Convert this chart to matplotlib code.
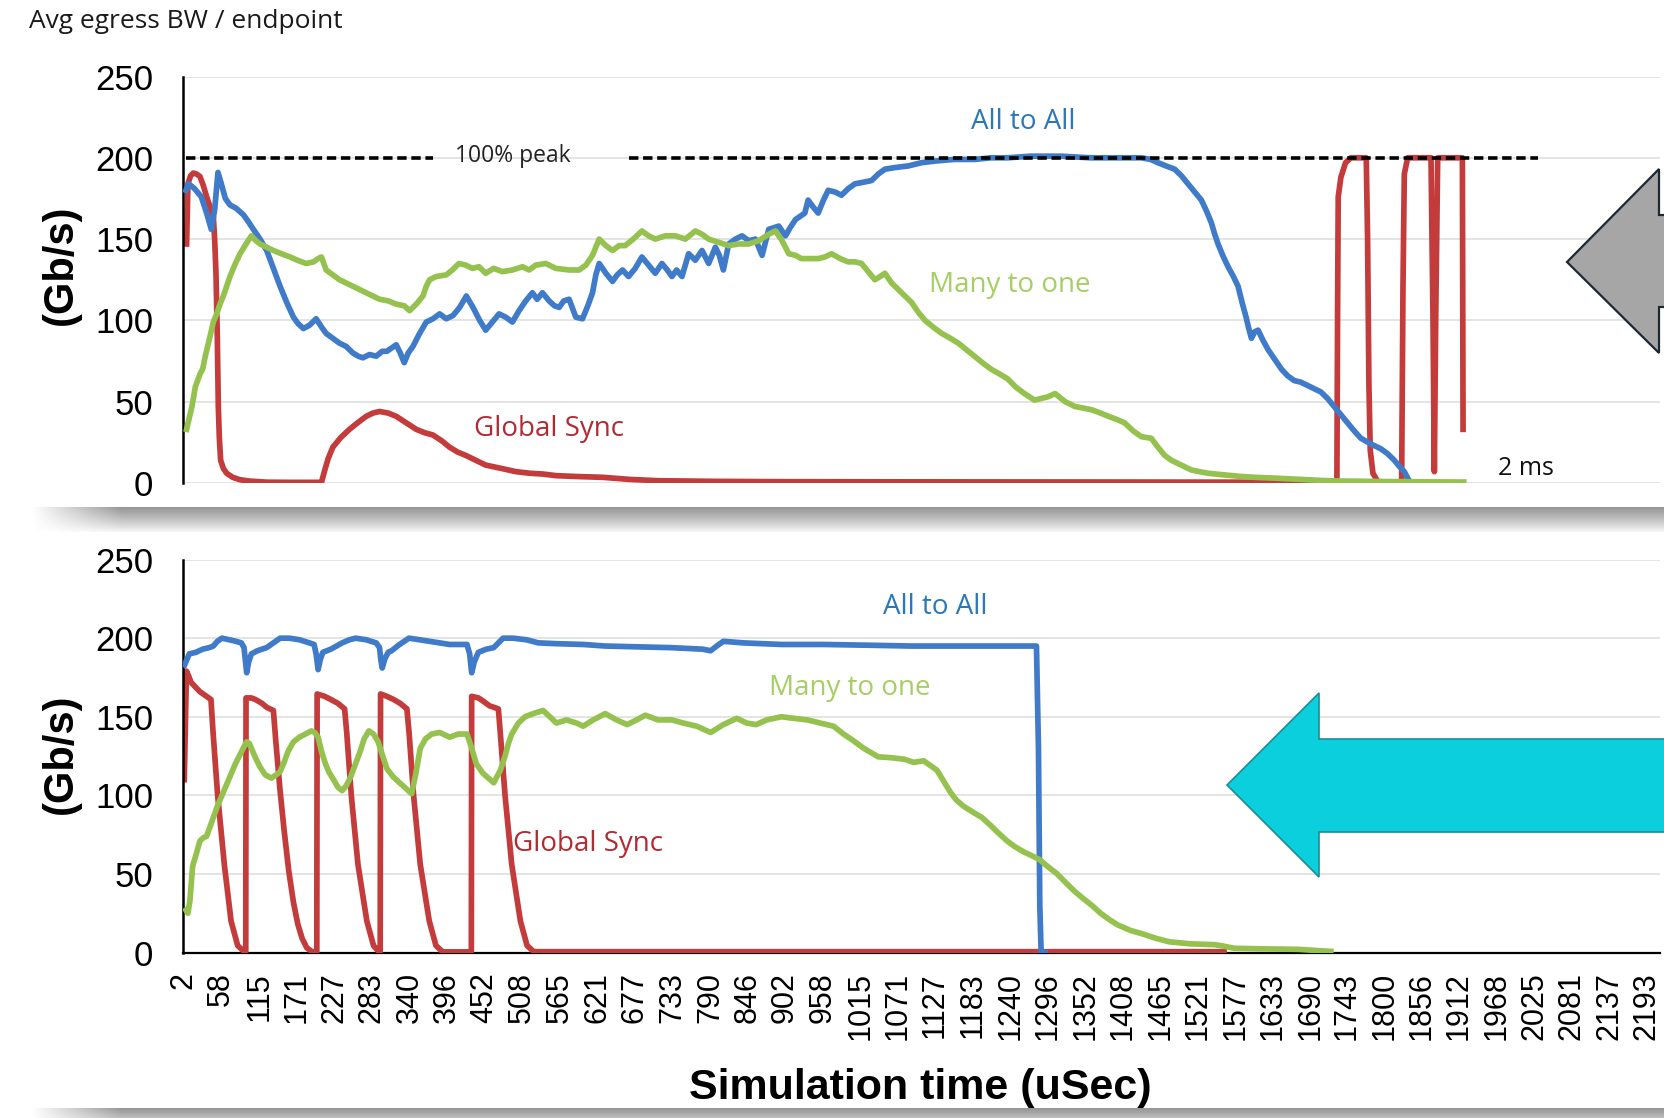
import numpy as np
import matplotlib
matplotlib.use("Agg")
import matplotlib.pyplot as plt
from matplotlib.patches import Polygon

# ---------------- data ----------------
tick_labels = ["2", "58", "115", "171", "227", "283", "340", "396", "452", "508",
               "565", "621", "677", "733", "790", "846", "902", "958", "1015", "1071",
               "1127", "1183", "1240", "1296", "1352", "1408", "1465", "1521", "1577", "1633",
               "1690", "1743", "1800", "1856", "1912", "1968", "2025", "2081", "2137", "2193"]
tick_values = [int(t) for t in tick_labels]
y_ticks = [0, 50, 100, 150, 200, 250]
peak_value = 200

# --- top panel ---
top_blue_x = [5, 9, 18, 28, 36, 43, 48, 53, 58, 64, 71, 80, 91, 98, 106, 116, 126, 136, 146, 156,
              166, 173, 181, 190, 200, 208, 215, 225, 235, 245, 255, 263, 270, 280, 290, 299, 306, 313, 320, 326,
              332, 338, 345, 355, 365, 375, 385, 395, 405, 415, 425, 435, 445, 454, 464, 474, 484, 494, 504, 514,
              524, 531, 539, 549, 557, 564, 571, 579, 589, 599, 607, 614, 619, 624, 634, 644, 651, 659, 668, 678,
              688, 698, 708, 718, 726, 733, 740, 748, 758, 768, 778, 788, 798, 804, 810, 818, 828, 838, 848, 858,
              863, 868, 878, 893, 903, 910, 918, 925, 932, 937, 944, 952, 960, 967, 977, 987, 997, 1007, 1020, 1032,
              1042, 1052, 1067, 1087, 1107, 1127, 1156, 1186, 1211, 1236, 1270, 1316, 1360, 1410, 1436, 1450, 1461, 1473, 1486, 1496,
              1506, 1516, 1526, 1534, 1541, 1546, 1551, 1558, 1566, 1574, 1581, 1587, 1593, 1597, 1601, 1606, 1611, 1618, 1626, 1636,
              1646, 1655, 1665, 1675, 1685, 1695, 1705, 1715, 1725, 1735, 1745, 1755, 1765, 1780, 1795, 1805, 1815, 1823, 1830, 1835,
              1838]
top_blue_y = [180, 184, 181, 176, 166, 156, 168, 191, 184, 175, 171, 169, 165, 161, 156, 150, 143, 132, 121, 111,
              102, 98, 95, 97, 101, 96, 92, 89, 86, 84, 80, 78, 77, 79, 78, 81, 81, 83, 85, 80,
              74, 80, 84, 92, 99, 101, 104, 101, 103, 108, 115, 108, 100, 94, 99, 104, 102, 99, 106, 112,
              117, 113, 117, 112, 109, 108, 112, 113, 102, 101, 109, 117, 128, 135, 129, 124, 128, 131, 127, 132,
              139, 134, 129, 135, 131, 127, 131, 127, 141, 137, 143, 135, 145, 140, 131, 147, 150, 152, 149, 150,
              145, 140, 156, 158, 152, 157, 162, 164, 166, 174, 170, 166, 174, 180, 179, 177, 181, 184, 185, 186,
              190, 193, 194, 195, 197, 198, 199, 199, 200, 200, 201, 201, 200, 200, 200, 199, 197, 195, 193, 189,
              184, 179, 174, 167, 160, 153, 147, 140, 133, 127, 121, 111, 102, 95, 89, 93, 94, 88, 82, 76,
              70, 66, 63, 62, 60, 58, 56, 52, 47, 42, 37, 32, 27.5, 24, 21, 18, 14, 10, 7, 3,
              1]

top_green_x = [6, 10, 14, 19, 26, 30, 34, 41, 46, 51, 56, 61, 66, 71, 78, 86, 95, 103, 110, 116,
               126, 136, 148, 161, 172, 185, 196, 203, 208, 215, 225, 235, 250, 265, 280, 295, 308, 320, 332, 340,
               350, 360, 365, 370, 380, 395, 404, 414, 424, 434, 444, 454, 466, 479, 494, 509, 519, 529, 544, 559,
               579, 594, 604, 614, 624, 634, 644, 654, 663, 675, 688, 698, 708, 723, 738, 753, 768, 778, 788, 803,
               818, 833, 848, 863, 878, 888, 898, 908, 918, 927, 940, 952, 962, 972, 985, 997, 1007, 1017, 1027, 1037,
               1045, 1052, 1062, 1072, 1082, 1092, 1102, 1112, 1124, 1137, 1150, 1162, 1174, 1186, 1198, 1211, 1224, 1236, 1248, 1261,
               1276, 1286, 1296, 1307, 1322, 1337, 1350, 1362, 1375, 1387, 1400, 1411, 1424, 1436, 1451, 1461, 1471, 1481, 1491, 1501,
               1511, 1523, 1536, 1560, 1586, 1611, 1636, 1660, 1685, 1710, 1735, 1800, 1860, 1919]
top_green_y = [33, 40, 47, 59, 67, 70, 78, 90, 99, 104, 110, 115, 121, 127, 134, 141, 147, 152, 149, 147,
               145, 143, 141, 139, 137, 135, 136, 138, 139, 131, 128, 125, 122, 119, 116, 113, 112, 110, 109, 106,
               110, 115, 121, 125, 127, 128, 131, 135, 134, 132, 133, 129, 132, 130, 131, 133, 131, 134, 135, 132,
               131, 131, 134, 140, 150, 146, 143, 146, 146, 150, 155, 152, 150, 152, 152, 150, 155, 153, 150, 148,
               146, 147, 147, 149, 153, 155, 149, 141, 140, 138, 138, 138, 139, 141, 138, 136, 136, 135, 130, 125,
               127, 129, 123, 119, 115, 111, 105, 100, 96, 92, 89, 86, 82, 78, 74, 70, 67, 64, 59, 55,
               51, 52, 53, 55, 50, 47, 46, 45, 43, 41, 39, 37, 32, 28.5, 27.5, 22, 17, 14, 12, 10,
               8, 7, 6, 5, 4, 3.4, 3, 2.5, 2, 1.5, 1.2, 0.9, 0.7, 0.6]

top_red_x = [6, 8, 12, 16, 21, 26, 31, 36, 41, 46, 48, 50, 52, 53.5, 55, 57, 61, 66, 75, 86,
             100, 126, 160, 208, 213, 218, 225, 237, 250, 262, 275, 285, 295, 308, 320, 335, 350, 362, 375, 388,
             400, 412, 424, 439, 454, 477, 499, 520, 540, 560, 590, 629, 670, 713, 800, 900, 1100, 1400, 1600, 1729,
             1730, 1731, 1735, 1742, 1750, 1773, 1775, 1777, 1779, 1783, 1790, 1800, 1826, 1828, 1830, 1835, 1870, 1873, 1875, 1877,
             1880, 1917, 1918]
top_red_y = [147, 184, 189, 190.6, 190, 188.5, 183, 176, 170, 164, 150, 129, 90, 47, 28, 14, 9, 6, 3.5, 2,
             1.2, 0.5, 0.4, 0.4, 8, 15, 22, 28, 33, 37, 41, 43, 44, 43, 41, 37, 33, 31, 29.5, 26,
             22, 19, 17, 14, 11, 9, 7, 6, 5.5, 4.5, 4, 3.5, 2.2, 1.4, 1, 0.8, 0.7, 0.6, 0.5, 0.5,
             100, 176, 188, 197, 200, 200, 150, 60, 20, 6, 1, 0.5, 0.5, 120, 190, 200, 200, 100, 7, 100,
             200, 200, 33]

# --- bottom panel ---
bot_blue_x = [3, 6, 10, 20, 30, 40, 46, 52, 59, 70, 80, 88, 92, 94, 96, 99, 103, 112, 126, 136,
              146, 160, 175, 190, 197, 200, 203, 206, 210, 222, 239, 250, 259, 275, 290, 295, 297, 299, 303, 308,
              313, 325, 339, 355, 370, 385, 400, 415, 426, 430, 433, 437, 443, 455, 466, 473, 480, 495, 515, 533,
              560, 600, 633, 680, 730, 779, 791, 800, 810, 840, 897, 960, 1030, 1091, 1160, 1230, 1279, 1282, 1284, 1286,
              1292]
bot_blue_y = [183, 186, 190, 191, 193, 194, 195, 198, 200, 199, 198, 197, 194, 186, 178, 185, 190, 192, 194, 197,
              200, 200, 199, 197, 196, 190, 180, 186, 191, 193, 197, 199, 200, 199, 197, 194, 186, 181, 187, 191,
              192, 196, 200, 199, 198, 197, 196, 196, 196, 190, 178, 185, 191, 193, 194, 197, 200, 200, 199, 197,
              196.5, 196, 195, 194.5, 194, 193, 192, 195, 198, 197, 196, 196, 195.5, 195, 195, 195, 195, 130, 30, 0,
              0]

bot_green_x = [5, 8, 11, 15, 20, 26, 31, 36, 41, 46, 52, 59, 66, 72, 79, 86, 92, 96, 100, 105,
               109, 116, 124, 133, 140, 146, 152, 158, 166, 175, 184, 193, 198, 203, 208, 214, 219, 226, 233, 239,
               245, 252, 259, 266, 272, 279, 286, 293, 299, 306, 315, 325, 333, 343, 349, 356, 364, 373, 385, 400,
               413, 426, 433, 440, 450, 458, 466, 471, 476, 483, 488, 493, 503, 513, 525, 540, 550, 560, 575, 590,
               600, 615, 633, 650, 666, 680, 693, 712, 733, 750, 770, 791, 810, 830, 845, 859, 875, 897, 915, 936,
               955, 975, 990, 1004, 1020, 1042, 1060, 1081, 1095, 1110, 1120, 1130, 1140, 1150, 1159, 1170, 1185, 1197, 1210, 1222,
               1235, 1246, 1260, 1275, 1284, 1295, 1310, 1323, 1336, 1350, 1362, 1375, 1388, 1400, 1420, 1439, 1458, 1478, 1510, 1546,
               1560, 1575, 1620, 1671, 1700, 1720]
bot_green_y = [27, 25, 33, 55, 62, 71, 73, 74, 80, 86, 93, 100, 107, 113, 120, 126, 131, 134, 133, 128,
               124, 118, 113, 111, 113, 115, 121, 128, 134, 137, 139, 141, 140, 137, 128, 120, 115, 110, 105, 103,
               106, 112, 120, 128, 136, 141, 139, 134, 126, 117, 112, 108, 105, 101, 113, 130, 136, 139, 140, 137,
               139, 139, 130, 120, 114, 111, 108, 112, 116, 125, 133, 139, 146, 150, 152, 154, 150, 146, 148, 146,
               144, 148, 152, 148, 145, 148, 151, 148, 148, 146, 144, 140, 145, 149, 146, 145, 148, 150, 149, 148,
               146, 144, 139, 135, 130, 124.5, 124, 123, 121, 122, 119, 116, 109, 102, 97, 93, 89, 86, 81, 76,
               71, 67.5, 64, 61, 59, 55, 50, 44.4, 39, 34, 30, 25, 21, 17.7, 14, 11.7, 9, 6.8, 5.5, 5,
               4, 2.7, 2.3, 2, 1.2, 0.7]

bot_red_x = [2.5, 5.8, 9, 12.5, 19, 25.8, 35.8, 42.5, 45.8, 52.5, 62.5, 72.6, 82.5, 92.5, 94.6,
             95, 102.6, 109, 119, 126, 136, 139.5, 146, 152, 159, 166, 172.6, 179, 186, 194, 201,
             201.5, 212.7, 222, 232.7, 242.7, 246, 252.7, 262.7, 276, 286, 294, 296,
             296.5, 306, 316, 326, 336, 339.4, 346, 356, 369.5, 379.5, 389.5, 432.5,
             433, 443, 450, 459.6, 473, 476, 483, 493, 506, 516, 526, 800, 1200, 1560]
bot_red_y = [110, 179, 176, 172, 169, 166, 163, 161, 139, 100, 56, 20, 4.4, 0.4, 0.4,
             162, 162, 161, 158.5, 156, 154, 135, 103, 78, 52, 32, 18, 9, 3, 0.5, 0.3,
             164.5, 163, 161, 158.5, 155, 139, 100, 56, 20, 4.4, 0.4, 0.4,
             164.5, 163, 161, 158.5, 155, 139, 100, 56, 20, 4.4, 0.4, 0.4,
             163, 162, 160, 157, 155, 139, 100, 56, 20, 4.4, 0.5, 0.5, 0.5, 0.5]

# ---------------- styling ----------------
W, H = 1665, 1118
BLUE, GREEN, RED = "#3f7bc8", "#95c24f", "#c43b3c"
NUM_FONT = ["Liberation Sans", "DejaVu Sans"]
ANN_FONT = ["Open Sans", "DejaVu Sans"]
LW = 4.1

fig = plt.figure(figsize=(W / 100, H / 100), dpi=100)
fig.patch.set_facecolor("white")

# background: shadow bands
bg = fig.add_axes([0, 0, 1, 1], zorder=-5)
bg.set_xlim(0, W)
bg.set_ylim(H, 0)
bg.axis("off")


def band(y0, y1, x0=30, fade=90):
    h = 40
    w = 400
    v = np.linspace(0, 1, h)[:, None]
    u = np.linspace(0, 1, w)[None, :]
    alpha = 0.62 * (1 - v) ** 0.9 + 0.05
    horiz = np.clip(u * (W - x0) / fade, 0, 1)
    img = np.zeros((h, w, 4))
    img[..., :3] = 0.38
    img[..., 3] = alpha * horiz
    bg.imshow(img, extent=(x0, W, y1, y0), aspect="auto", interpolation="bilinear")


band(507, 532)
band(1108, 1130)

x_left, x_right = 0, 2213
L = 182.6 / W
R = 1660 / W


def style_axes(ax, bottom_axis):
    ax.set_facecolor("none")
    ax.set_xlim(x_left, x_right)
    ax.set_ylim(0, 250)
    for s in ["top", "right"]:
        ax.spines[s].set_visible(False)
    ax.spines["left"].set_color("black")
    ax.spines["left"].set_linewidth(1.8)
    if bottom_axis:
        ax.spines["bottom"].set_color("black")
        ax.spines["bottom"].set_linewidth(1.6)
        ax.spines["bottom"].set_zorder(1)
    else:
        ax.spines["bottom"].set_visible(False)
    ax.set_yticks(y_ticks)
    ax.set_yticklabels([str(v) for v in y_ticks], fontsize=25, family=NUM_FONT)
    ax.tick_params(axis="y", length=0, pad=21)
    for v in y_ticks:
        if v == 0 and bottom_axis:
            continue
        ax.axhline(v, color="#dcdcdc", lw=1.1, zorder=0.5)


ax1 = fig.add_axes([L, 1 - 483 / H, R - L, (483 - 76.5) / H])
ax2 = fig.add_axes([L, 1 - 952.5 / H, R - L, (952.5 - 559.6) / H])
style_axes(ax1, False)
style_axes(ax2, True)

# top panel lines
ax1.plot(top_red_x, top_red_y, color=RED, lw=LW, zorder=2, solid_joinstyle="round")
ax1.plot(top_blue_x, top_blue_y, color=BLUE, lw=LW, zorder=3, solid_joinstyle="round")
ax1.plot(top_green_x, top_green_y, color=GREEN, lw=LW, zorder=4, solid_joinstyle="round")
dash = (0, (2.6, 1.3))
ax1.plot([5, 375], [peak_value, peak_value], color="black", lw=2.6, linestyle=dash, zorder=5)
ax1.plot([669, 2031], [peak_value, peak_value], color="black", lw=2.6, linestyle=dash, zorder=5)
ax1.set_xticks([])

ax1.text(495, 201, "100% peak", fontsize=16.5, family=ANN_FONT, color="#222222",
         ha="center", va="center")
ax1.text(1259, 222, "All to All", fontsize=20, family=ANN_FONT, color="#2b78b8",
         ha="center", va="center")
ax1.text(1239, 122, "Many to one", fontsize=20, family=ANN_FONT, color="#a5cf62",
         ha="center", va="center")
ax1.text(549, 33, "Global Sync", fontsize=20, family=ANN_FONT, color="#b22a32",
         ha="center", va="center")
ax1.text(2012, 9, "2 ms", fontsize=18, family=ANN_FONT, color="#111111",
         ha="center", va="center")

# bottom panel lines
ax2.plot(bot_red_x, bot_red_y, color=RED, lw=LW, zorder=2, solid_joinstyle="round")
ax2.plot(bot_blue_x, bot_blue_y, color=BLUE, lw=LW, zorder=3, solid_joinstyle="round")
ax2.plot(bot_green_x, bot_green_y, color=GREEN, lw=LW, zorder=4, solid_joinstyle="round")
ax2.set_xticks(tick_values)
ax2.set_xticklabels(tick_labels, rotation=90, fontsize=22, family=NUM_FONT)
ax2.tick_params(axis="x", length=0, pad=14)

ax2.text(1127, 220, "All to All", fontsize=20, family=ANN_FONT, color="#2b78b8",
         ha="center", va="center")
ax2.text(1000, 168, "Many to one", fontsize=20, family=ANN_FONT, color="#a5cf62",
         ha="center", va="center")
ax2.text(607, 69, "Global Sync", fontsize=20, family=ANN_FONT, color="#b22a32",
         ha="center", va="center")

# axis titles
fig.text(60.5 / W, 1 - 265 / H, "(Gb/s)", rotation=90, fontsize=30, fontweight="bold",
         family=NUM_FONT, ha="center", va="center")
fig.text(60.5 / W, 1 - 754 / H, "(Gb/s)", rotation=90, fontsize=30, fontweight="bold",
         family=NUM_FONT, ha="center", va="center")
fig.text(920 / W, 1 - 1088 / H, "Simulation time (uSec)", fontsize=31, fontweight="bold",
         family=NUM_FONT, ha="center", va="center")
fig.text(28.7 / W, 1 - 21 / H, "Avg egress BW / endpoint", fontsize=19, family=ANN_FONT,
         color="#1a1a1a", ha="left", va="center")

# overlay arrows
ov = fig.add_axes([0, 0, 1, 1], zorder=10)
ov.set_xlim(0, W)
ov.set_ylim(H, 0)
ov.axis("off")
ov.patch.set_alpha(0)
gray_arrow = [(1567, 262), (1659, 169), (1659, 215), (1700, 215), (1700, 307),
              (1659, 307), (1659, 353)]
ov.add_patch(Polygon(gray_arrow, closed=True, facecolor="#a6a6a6", edgecolor="#1e2833",
                     lw=1.6, joinstyle="miter", clip_on=False))
cyan_arrow = [(1227, 785), (1319, 693), (1319, 739), (1700, 739), (1700, 832),
              (1319, 832), (1319, 877)]
ov.add_patch(Polygon(cyan_arrow, closed=True, facecolor="#0bcfdc", edgecolor="#1b8c9a",
                     lw=1.2, joinstyle="miter", clip_on=False))

fig.savefig("out.png", dpi=100)
